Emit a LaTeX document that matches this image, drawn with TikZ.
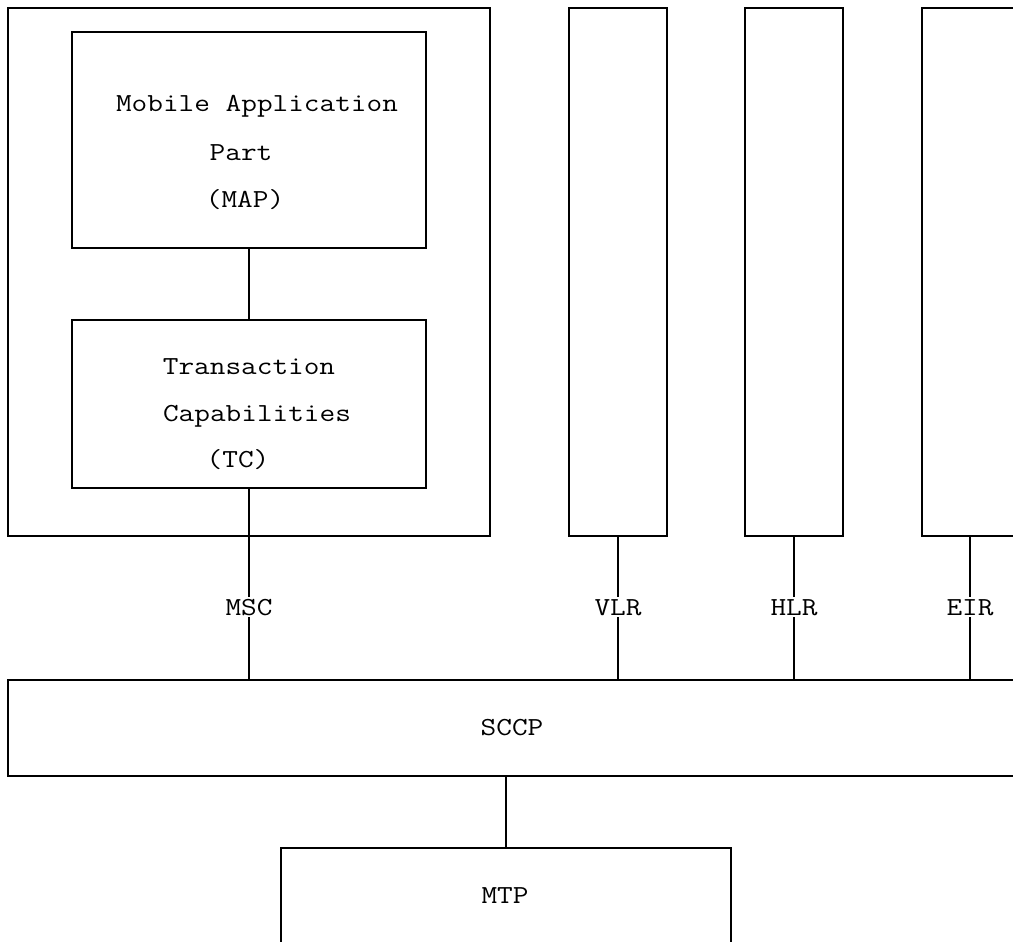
\documentclass[tikz,border=0pt]{standalone}
\usepackage{fontspec}
\newfontfamily\diagfont[FakeStretch=1.17]{Latin Modern Mono}
\begin{document}
\begin{tikzpicture}[x=1pt,y=-1pt,
  box/.style={draw,line width=2pt,rectangle,inner sep=0pt},
  txt/.style={font=\diagfont\fontsize{26}{30}\selectfont,anchor=base,inner sep=0pt},
  lbl/.style={txt,fill=white,inner ysep=2pt,inner xsep=0pt},
  conn/.style={line width=2pt}]
\useasboundingbox (0,0) rectangle (1013,942);
% boxes
\node[box,minimum width=482,minimum height=528] (msc) at (249,272) {};
\node[box,minimum width=354,minimum height=216] (map) at (249,140) {};
\node[box,minimum width=354,minimum height=168] (tc) at (249,404) {};
\node[box,minimum width=98,minimum height=528] (vlr) at (618,272) {};
\node[box,minimum width=98,minimum height=528] (hlr) at (794,272) {};
\node[box,minimum width=178,minimum height=528] (eir) at (1011,272) {};
\node[box,minimum width=1092,minimum height=96] (sccp) at (554,728) {};
\node[box,minimum width=450,minimum height=152] (mtp) at (506,924) {};
% texts
\node[txt] (t1) at (257,112) {Mobile Application};
\node[txt] (t2) at (241,160) {Part};
\node[txt] (t3) at (245,207) {(MAP)};
\node[txt] (t4) at (249,374) {Transaction};
\node[txt] (t5) at (257,421) {Capabilities};
\node[txt] (t6) at (238,467) {(TC)};
\node[txt] (t7) at (512,735) {SCCP};
\node[txt] (t8) at (505,903) {MTP};
% connector coordinates
\coordinate (eirc) at (970,536);
% connectors
\draw[conn] (map.south) -- (tc.north);
\draw[conn] (tc.south) -- (tc.south |- sccp.north);
\draw[conn] (vlr.south) -- (vlr.south |- sccp.north);
\draw[conn] (hlr.south) -- (hlr.south |- sccp.north);
\draw[conn] (eirc) -- (eirc |- sccp.north);
\draw[conn] (sccp.south -| mtp.north) -- (mtp.north);
% labels
\node[lbl] (lmsc) at (249,615) {MSC};
\node[lbl] (lvlr) at (618,615) {VLR};
\node[lbl] (lhlr) at (794,615) {HLR};
\node[lbl] (leir) at (970,615) {EIR};
\end{tikzpicture}
\end{document}
